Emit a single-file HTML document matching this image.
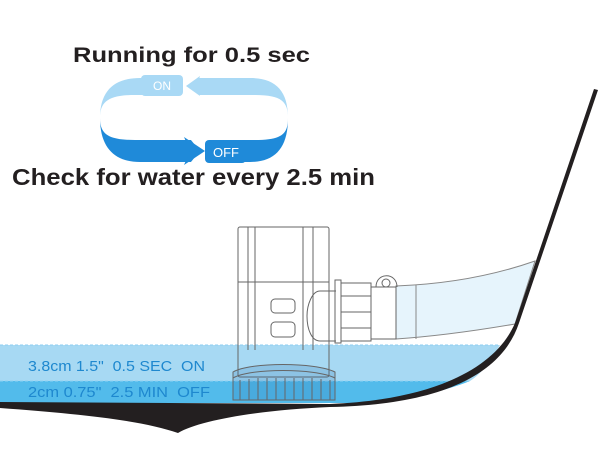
<!DOCTYPE html>
<html><head><meta charset="utf-8"><style>
html,body{margin:0;padding:0;background:#fff;}
svg{display:block;}
</style></head><body>
<svg width="600" height="461" viewBox="0 0 600 461" xmlns="http://www.w3.org/2000/svg">
<!-- cycle -->
<text x="73" y="62" textLength="237" lengthAdjust="spacingAndGlyphs" font-family="Liberation Sans, sans-serif" font-weight="bold" font-size="21" fill="#231f20">Running for 0.5 sec</text>
<path d="M100,118 C100,90 115,78 140,78 L250,78 C275,78 288,90 288,118 C288,102 282,95 255,95 L135,95 C108,95 100,102 100,118 Z" fill="#a9d9f5"/>
<path d="M100,118 C100,148 115,162 140,162 L250,162 C275,162 288,148 288,118 C288,134 282,140 255,140 L135,140 C108,140 100,134 100,118 Z" fill="#1f8ad9"/>
<!-- ON label + arrow -->
<polygon points="180,72 204,72 190,86 204,100 180,100" fill="#fff"/>
<rect x="141" y="75" width="42" height="21" rx="4" fill="#a9d9f5"/>
<polygon points="186,86 200,76 197,86 200,96" fill="#a9d9f5"/>
<text x="162" y="90" font-family="Liberation Sans, sans-serif" font-size="12" fill="#fff" text-anchor="middle">ON</text>
<!-- OFF label + arrow -->
<polygon points="186,134 212,134 212,168 186,168 200,151" fill="#fff"/>
<polygon points="184,137 205,151 184,165 190,151" fill="#1f8ad9"/>
<rect x="205" y="140" width="41" height="23" rx="4" fill="#1f8ad9"/>
<text x="226" y="157" font-family="Liberation Sans, sans-serif" font-size="13" fill="#fff" text-anchor="middle">OFF</text>
<text x="12" y="185" textLength="363" lengthAdjust="spacingAndGlyphs" font-family="Liberation Sans, sans-serif" font-weight="bold" font-size="23" fill="#231f20">Check for water every 2.5 min</text>

<!-- hose -->
<path d="M396,286 C450,284 495,275 535,261 L515,324 C480,330 440,336 396,339 Z" fill="#e6f4fc" stroke="#888" stroke-width="1"/>
<line x1="416" y1="285" x2="416" y2="339" stroke="#888"/>
<!-- water -->
<path d="M0,345 L500,345 C490,362 480,375 470,381 L0,381 Z" fill="#a7d9f3"/>
<path d="M0,381 L470,381 C440,393 400,401 360,403 L0,403 Z" fill="#52bbeb"/>
<path d="M0,345 L498,345" stroke="#8ccdf0" stroke-width="1" stroke-dasharray="3 2"/>
<path d="M0,381 L470,381" stroke="#8ed2f3" stroke-width="1" stroke-dasharray="3 2"/>
<!-- pump -->
<g fill="none" stroke="#666" stroke-width="1">
<rect x="238" y="227" width="91" height="150" rx="2"/>
<line x1="238" y1="282" x2="329" y2="282"/>
<path d="M255,227 L255,350 M303,227 L303,350 M248,227 L248,350 M313,227 L313,350"/>
<rect x="271" y="299" width="24" height="14" rx="4"/>
<rect x="271" y="322" width="24" height="15" rx="4"/>
<path d="M336,291 L320,291 C312,291 307,305 307,316 C307,330 312,341 320,341 L336,341"/>
<rect x="335" y="280" width="6" height="63"/>
<rect x="341" y="283" width="30" height="58"/>
<path d="M341,296 L371,296 M341,312 L371,312 M341,328 L371,328"/>
<rect x="371" y="287" width="25" height="52"/>
<path d="M376,287 C376,272 397,272 397,287"/>
<circle cx="386" cy="283" r="4"/>
<path d="M233,372 C250,362 315,362 335,372 L335,400 L233,400 Z" fill="rgba(40,110,170,0.2)"/>
<path d="M233,378 C250,368 315,368 335,378"/>
<path d="M240,380 V400 M249,379 V400 M258,378 V400 M267,378 V400 M276,378 V400 M285,378 V400 M294,378 V400 M303,378 V400 M312,378 V400 M321,379 V400 M330,380 V400"/>
</g>
<text x="28" y="371" textLength="177" lengthAdjust="spacingAndGlyphs" xml:space="preserve" font-family="Liberation Sans, sans-serif" font-size="15" fill="#1e88cf">3.8cm 1.5"  0.5 SEC  ON</text>
<text x="28" y="397" textLength="182" lengthAdjust="spacingAndGlyphs" xml:space="preserve" font-family="Liberation Sans, sans-serif" font-size="15" fill="#1e88cf">2cm 0.75"  2.5 MIN  OFF</text>
<!-- hull -->
<path d="M594,89 L515,323 C495,370 430,400 330,404 L0,402 L0,408 C80,414 140,420 178,433 C200,420 260,410 330,407 C430,405 500,380 519,323 L598,90 Z" fill="#231f20"/>
</svg>
</body></html>
